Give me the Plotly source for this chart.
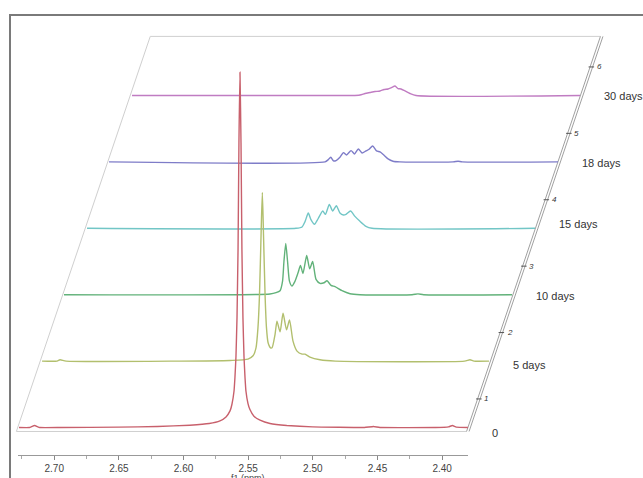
import plotly.graph_objects as go

# ---------------- data ----------------
labels = ["0", "5 days", "10 days", "15 days", "18 days", "30 days"]
colors = ["#c8606c", "#b2bf6e", "#62b27a", "#72c6c6", "#7e7cc8", "#c07cc2"]

ppm_0d = [2.7270, 2.7190, 2.7150, 2.7110, 2.6950, 2.6500, 2.6200, 2.5950, 2.5800, 2.5717,
          2.5670, 2.5639, 2.5624, 2.5608, 2.5601, 2.5593, 2.5585, 2.5577, 2.5570, 2.5562,
          2.5554, 2.5547, 2.5539, 2.5531, 2.5523, 2.5516, 2.5500, 2.5485, 2.5454, 2.5407,
          2.5330, 2.5200, 2.5000, 2.4600, 2.4530, 2.4480, 2.4050, 2.3950, 2.3920, 2.3890, 2.3800]
int_0d = [0.0, 0.0, 0.03, 0.0, 0.0, 0.005, 0.015, 0.035, 0.06, 0.10,
          0.16, 0.25, 0.35, 0.55, 0.75, 1.07, 1.65, 2.68, 4.29, 5.35,
          4.29, 2.68, 1.65, 1.07, 0.75, 0.55, 0.36, 0.27, 0.17, 0.11,
          0.06, 0.03, 0.01, 0.0, 0.015, 0.0, 0.0, 0.01, 0.03, 0.005, 0.0]

ppm_5d = [2.7266, 2.7150, 2.7127, 2.7080, 2.6200, 2.5813, 2.5674, 2.5635, 2.5612, 2.5597,
          2.5585, 2.5573, 2.5563, 2.5554, 2.5542, 2.5531, 2.5519, 2.5500, 2.5488, 2.5465,
          2.5450, 2.5426, 2.5403, 2.5376, 2.5353, 2.5326, 2.5295, 2.5256, 2.5233, 2.5195,
          2.5117, 2.4999, 2.4000, 2.3958, 2.3927, 2.3811]
int_5d = [0.0, 0.0, 0.02, 0.0, 0.0, 0.01, 0.03, 0.08, 0.2, 0.5,
          1.0, 1.9, 2.54, 1.9, 1.0, 0.5, 0.28, 0.2, 0.2, 0.4,
          0.60, 0.44, 0.72, 0.47, 0.62, 0.30, 0.15, 0.105, 0.105, 0.06,
          0.02, 0.0, 0.0, 0.02, 0.0, 0.0]

ppm_10d = [2.7270, 2.5678, 2.5631, 2.5600, 2.5581, 2.5570, 2.5556, 2.5542, 2.5527, 2.5508,
           2.5485, 2.5461, 2.5442, 2.5423, 2.5394, 2.5371, 2.5348, 2.5322, 2.5291, 2.5260,
           2.5237, 2.5206, 2.5175, 2.5121, 2.5059, 2.4982, 2.4580, 2.4534, 2.4490, 2.3807]
int_10d = [0.0, 0.01, 0.03, 0.06, 0.2, 0.5, 0.77, 0.5, 0.2, 0.13,
           0.2, 0.33, 0.44, 0.32, 0.59, 0.39, 0.50, 0.23, 0.17, 0.18,
           0.21, 0.14, 0.12, 0.06, 0.015, 0.0, 0.0, 0.012, 0.0, 0.0]

ppm_15d = [2.7266, 2.5651, 2.5604, 2.5581, 2.5556, 2.5535, 2.5508, 2.5481, 2.5444, 2.5423,
           2.5393, 2.5367, 2.5339, 2.5311, 2.5284, 2.5264, 2.5229, 2.5195, 2.5156, 2.5110,
           2.5063, 2.3803]
int_15d = [0.0, 0.0, 0.02, 0.1, 0.23, 0.13, 0.06, 0.14, 0.26, 0.21,
           0.36, 0.26, 0.34, 0.23, 0.20, 0.21, 0.26, 0.18, 0.105, 0.03,
           0.0, 0.0]

ppm_18d = [2.7270, 2.5600, 2.5577, 2.5556, 2.5535, 2.5515, 2.5485, 2.5458, 2.5434, 2.5399,
           2.5372, 2.5343, 2.5314, 2.5284, 2.5260, 2.5232, 2.5202, 2.5175, 2.5144, 2.5113,
           2.5075, 2.5021, 2.4610, 2.4572, 2.4540, 2.3799]
int_18d = [0.0, 0.0, 0.03, 0.07, 0.015, 0.02, 0.07, 0.14, 0.105, 0.17,
           0.12, 0.195, 0.135, 0.165, 0.19, 0.24, 0.165, 0.15, 0.10, 0.045,
           0.01, 0.0, 0.0, 0.01, 0.0, 0.0]

ppm_30d = [2.7266, 2.5566, 2.5504, 2.5465, 2.5426, 2.5388, 2.5349, 2.5318, 2.5287, 2.5260,
           2.5233, 2.5210, 2.5187, 2.5156, 2.5117, 2.5071, 2.3803]
int_30d = [0.0, 0.0, 0.008, 0.03, 0.045, 0.06, 0.068, 0.09, 0.098, 0.12,
           0.143, 0.105, 0.098, 0.068, 0.03, 0.0, 0.0]

spectra_ppm = [ppm_0d, ppm_5d, ppm_10d, ppm_15d, ppm_18d, ppm_30d]
spectra_int = [int_0d, int_5d, int_10d, int_15d, int_18d, int_30d]

x_ticks = [2.70, 2.65, 2.60, 2.55, 2.50, 2.45, 2.40]
z_tick_labels = ["1", "2", "3", "4", "5", "6"]

# ---------------- geometry / style ----------------
W, H = 643, 478
PX = 0.000773                  # ppm per pixel
PPM_LEFT = 2.728               # axis extents
PPM_RIGHT = 2.380
SHIFT = 22.5 * PX              # ppm shift per unit depth
Z_LO, Z_HI = -0.06, 5.89       # floor extents (depth units)
Z_TICK_OFFSET = -0.57
LABEL_DZ = [-0.09, -0.06, -0.02, 0.06, -0.01, -0.01]

x_range = [2.55 + 248 * PX, 2.55 - (W - 248) * PX]
y_unit = 66.4
y_range = [(427.5 - H) / y_unit, 427.5 / y_unit]


def sk(ppm, z):
    return ppm - z * SHIFT


fig = go.Figure()

# floor parallelogram
floor_x = [sk(PPM_RIGHT, Z_LO), sk(PPM_LEFT, Z_LO), sk(PPM_LEFT, Z_HI), sk(PPM_RIGHT, Z_HI)]
floor_y = [Z_LO, Z_LO, Z_HI, Z_HI]
fig.add_trace(go.Scatter(x=floor_x, y=floor_y, mode="lines",
                         line=dict(color="#cfcfcf", width=1), hoverinfo="skip"))
# right (depth) axis: double line
for dpx in (0.0, 2.5):
    fig.add_trace(go.Scatter(
        x=[sk(PPM_RIGHT, Z_LO) - dpx * PX, sk(PPM_RIGHT, Z_HI) - dpx * PX],
        y=[Z_LO, Z_HI], mode="lines",
        line=dict(color="#a0a0a0", width=1), hoverinfo="skip"))

# depth ticks
tx, ty = [], []
for i, lab in enumerate(z_tick_labels):
    z = int(lab) + Z_TICK_OFFSET
    e = sk(PPM_RIGHT, z)
    tx += [e + 1.5 * PX, e - 4 * PX, None]
    ty += [z, z, None]
    fig.add_annotation(x=e - 4.5 * PX, y=z, text="<i>" + lab + "</i>", showarrow=False,
                       xanchor="left", yanchor="middle",
                       font=dict(size=8, color="#333", family="Liberation Sans, Arial"))
fig.add_trace(go.Scatter(x=tx, y=ty, mode="lines", line=dict(color="#555", width=1),
                         hoverinfo="skip"))

# spectra (back to front so the front one is on top)
for k in range(len(labels) - 1, -1, -1):
    xs = [sk(p, k) for p in spectra_ppm[k]]
    ys = [v + k for v in spectra_int[k]]
    fig.add_trace(go.Scatter(x=xs, y=ys, mode="lines",
                             line=dict(color=colors[k], width=1.4,
                                       shape="spline", smoothing=0.6 if k else 0.3),
                             name=labels[k], hoverinfo="skip"))
    end = sk(min(spectra_ppm[k]), k)
    fig.add_annotation(x=end - 22 * PX, y=k + LABEL_DZ[k], text=labels[k], showarrow=False,
                       xanchor="left", yanchor="middle",
                       font=dict(size=11, color="#333", family="Liberation Sans, Arial"))

# dummy trace for bottom ppm axis
fig.add_trace(go.Scatter(x=[PPM_LEFT, PPM_RIGHT], y=[None, None], xaxis="x2",
                         mode="markers", marker=dict(opacity=0), hoverinfo="skip"))

fig.update_layout(
    width=W, height=H,
    margin=dict(l=0, r=0, t=0, b=0, pad=0),
    paper_bgcolor="white", plot_bgcolor="rgba(0,0,0,0)",
    showlegend=False,
    xaxis=dict(range=x_range, visible=False, domain=[0, 1], fixedrange=True),
    yaxis=dict(range=y_range, visible=False, domain=[0, 1], fixedrange=True),
    xaxis2=dict(range=[PPM_LEFT, PPM_RIGHT], domain=[18 / W, 468 / W],
                anchor="free", position=1 - 455 / H,
                showline=True, linecolor="#999", linewidth=1,
                ticks="outside", ticklen=4, tickcolor="#888",
                tickvals=x_ticks, ticktext=["%.2f" % t for t in x_ticks],
                minor=dict(dtick=0.025, ticks="outside", ticklen=3, tickcolor="#aaa"),
                showgrid=False, zeroline=False, fixedrange=True,
                tickfont=dict(size=10, color="#444", family="Liberation Sans Narrow, Liberation Sans, Arial")),
    shapes=[dict(type="rect", xref="paper", yref="paper",
                 x0=10 / W, x1=1.05, y0=-0.05, y1=1 - 15 / H,
                 line=dict(color="#7a7a7a", width=2))],
)
fig.add_annotation(xref="paper", yref="paper", x=248 / W, y=1 - 470.5 / H,
                   text="f1 (ppm)", showarrow=False, xanchor="center", yanchor="top",
                   font=dict(size=9, color="#444", family="Liberation Sans Narrow, Liberation Sans, Arial"))

fig.write_html("out.html")
